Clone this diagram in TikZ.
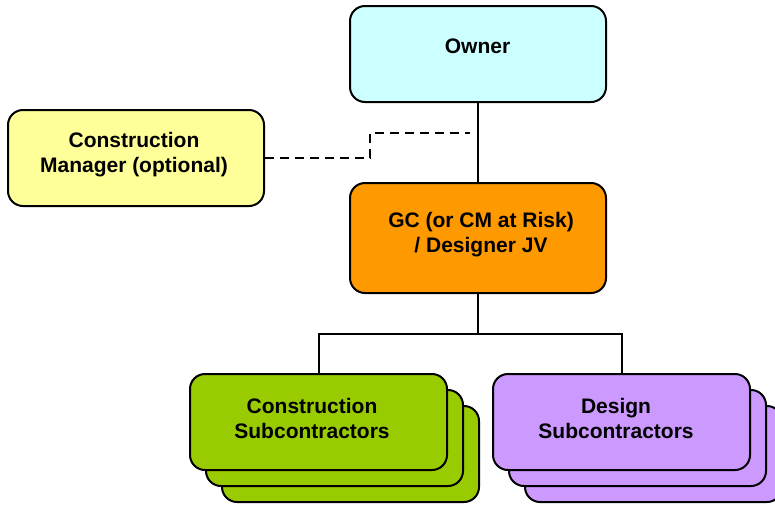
\documentclass[tikz,border=0pt]{standalone}
\usepackage{fontspec}
\setmainfont{Liberation Sans}
\begin{document}
\begin{tikzpicture}[x=1pt,y=-1pt,
  box/.style={draw=black,line width=2pt,rounded corners=15pt,inner sep=0pt,
              minimum width=257pt,minimum height=96pt},
  label/.style={align=center,font=\fontsize{21}{25}\selectfont\bfseries,inner sep=0pt},
  link/.style={line width=2pt},
  optlink/.style={line width=2pt,dash pattern=on 9pt off 6pt}]
\useasboundingbox (0,0) rectangle (775,506);
\definecolor{ownerfill}{HTML}{CCFFFF}
\definecolor{cmfill}{HTML}{FFFF99}
\definecolor{gcfill}{HTML}{FF9900}
\definecolor{csubfill}{HTML}{99CC00}
\definecolor{dsubfill}{HTML}{CC99FF}

% top-level parties
\node[box,fill=ownerfill,minimum width=256pt] (owner) at (478,54) {};
\node[label] (ownertxt) at (477.5,46) {Owner};

\node[box,fill=cmfill,minimum width=256pt] (cm) at (136,158) {};
\node[label] (cmtxt) at (134,155) {Construction\\Manager (optional)};

\node[box,fill=gcfill,minimum width=256pt,minimum height=110pt] (gc) at (478,238) {};
\node[label] (gctxt) at (481,235) {GC (or CM at Risk)\\/ Designer JV};

% stacked subcontractor boxes, back to front
\node[box,fill=csubfill] (csub3) at (350.5,454) {};
\node[box,fill=csubfill] (csub2) at (334.5,438) {};
\node[box,fill=csubfill] (csub) at (318.5,422) {};
\node[label] (csubtxt) at (312,418) {Construction\\Subcontractors};

\node[box,fill=dsubfill] (dsub3) at (653.5,454) {};
\node[box,fill=dsubfill] (dsub2) at (637.5,438) {};
\node[box,fill=dsubfill] (dsub) at (621.5,422) {};
\node[label] (dsubtxt) at (616,418) {Design\\Subcontractors};

% connectors
\draw[link] (owner.south) -- (gc.north);
\coordinate (split) at (478,334);
\draw[link] (gc.south) -- (split);
\draw[link] (split) -| (csub.north);
\draw[link] (split) -| (dsub.north);

\coordinate (cmbend) at (370,158);
\coordinate (cmend) at (470,133);
\draw[optlink] (cm.east) -- (cmbend) |- (cmend);
\end{tikzpicture}
\end{document}
